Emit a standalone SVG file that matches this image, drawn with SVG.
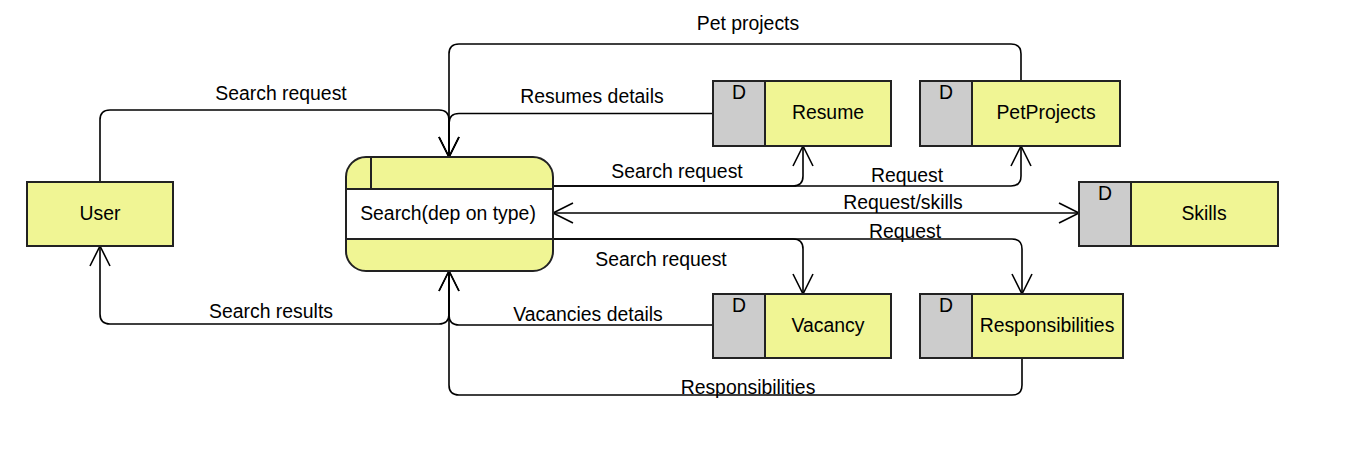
<svg xmlns="http://www.w3.org/2000/svg" width="1349" height="454" viewBox="0 0 1349 454">
<style>
text{font-family:"Liberation Sans",Arial,sans-serif;font-size:19.4px;fill:#000;text-anchor:middle}
.box{fill:#f0f594;stroke:#222;stroke-width:2}
.d{fill:#cccccc;stroke:#222;stroke-width:2}
.w{fill:#fff;stroke:#222;stroke-width:2}
.c{fill:none;stroke:#000;stroke-width:1.6}
</style>
<defs>
<marker id="arr" markerUnits="userSpaceOnUse" markerWidth="24" markerHeight="24" viewBox="-22 -12 24 24" refX="0" refY="0" orient="auto-start-reverse">
<path d="M-20,-10 L0,0 L-20,10" fill="none" stroke="#000" stroke-width="1.6"/>
</marker>
</defs>
<rect width="1349" height="454" fill="#fff"/>
<g id="connectors">
<path class="c" d="M100,182 V120 Q100,110 110,110 H439 Q449,110 449,120 V157" marker-end="url(#arr)"/>
<path class="c" d="M713,113.5 H459 Q449,113.5 449,123.5 V157" marker-end="url(#arr)"/>
<path class="c" d="M1021,81 V54 Q1021,44 1011,44 H459 Q449,44 449,54 V157" marker-end="url(#arr)"/>
<path class="c" d="M553,186 H793 Q803,186 803,176 V146" marker-end="url(#arr)"/>
<path class="c" d="M553,186 H1011 Q1021,186 1021,176 V146" marker-end="url(#arr)"/>
<path class="c" d="M553,213 H1079" marker-start="url(#arr)" marker-end="url(#arr)"/>
<path class="c" d="M553,239 H793 Q803,239 803,249 V294" marker-end="url(#arr)"/>
<path class="c" d="M553,239 H1012 Q1022,239 1022,249 V294" marker-end="url(#arr)"/>
<path class="c" d="M449,271 V314 Q449,324 439,324 H110 Q100,324 100,314 V246" marker-end="url(#arr)"/>
<path class="c" d="M713,325 H459 Q449,325 449,315 V271" marker-end="url(#arr)"/>
<path class="c" d="M1022,358 V385 Q1022,395 1012,395 H459 Q449,395 449,385 V271" marker-end="url(#arr)"/>
<text x="748" y="30">Pet projects</text>
<text x="281" y="100">Search request</text>
<text x="592" y="103">Resumes details</text>
<text x="677" y="178">Search request</text>
<text x="907" y="182">Request</text>
<text x="903" y="209">Request/skills</text>
<text x="905" y="238">Request</text>
<text x="661" y="266">Search request</text>
<text x="271" y="318">Search results</text>
<text x="588" y="321">Vacancies details</text>
<text x="748" y="394">Responsibilities</text>
</g>
<g id="user">
<rect class="box" x="27" y="182" width="146" height="64"/>
<text x="100" y="220">User</text>
</g>
<g id="search">
<rect class="box" x="346" y="157" width="207" height="114" rx="20" ry="20"/>
<rect class="w" x="346" y="189" width="207" height="50"/>
<line x1="371" y1="157" x2="371" y2="189" stroke="#222" stroke-width="2"/>
<text x="448" y="220">Search(dep on type)</text>
</g>
<g id="resume">
<rect class="box" x="713" y="81" width="178" height="65"/>
<rect class="d" x="713" y="81" width="52" height="65"/>
<text x="739" y="99">D</text>
<text x="828" y="119">Resume</text>
</g>
<g id="petprojects">
<rect class="box" x="920" y="81" width="200" height="65"/>
<rect class="d" x="920" y="81" width="52" height="65"/>
<text x="946" y="99">D</text>
<text x="1046" y="119">PetProjects</text>
</g>
<g id="skills">
<rect class="box" x="1079" y="182" width="199" height="64"/>
<rect class="d" x="1079" y="182" width="52" height="64"/>
<text x="1105" y="200">D</text>
<text x="1204" y="220">Skills</text>
</g>
<g id="vacancy">
<rect class="box" x="713" y="294" width="178" height="64"/>
<rect class="d" x="713" y="294" width="52" height="64"/>
<text x="739" y="312">D</text>
<text x="828" y="332">Vacancy</text>
</g>
<g id="responsibilities">
<rect class="box" x="920" y="294" width="203" height="64"/>
<rect class="d" x="920" y="294" width="52" height="64"/>
<text x="946" y="312">D</text>
<text x="1047" y="332">Responsibilities</text>
</g>
</svg>
